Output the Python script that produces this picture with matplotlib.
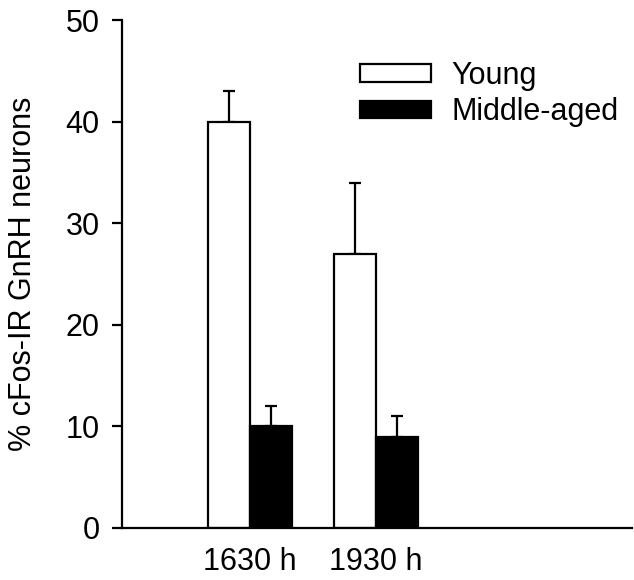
import numpy as np
import matplotlib
matplotlib.use("Agg")
import matplotlib.pyplot as plt

plt.rcParams["font.family"] = ["Liberation Sans", "DejaVu Sans"]

# data
times = ["1630 h", "1930 h"]
young = [40, 27]
young_err = [3, 7]
middle = [10, 9]
middle_err = [2, 2]

fig = plt.figure(figsize=(6.34, 5.8), dpi=100)
ax = fig.add_axes([0.1924, 0.0897, 0.805, 0.8758])

centers = np.array([3.0, 6.0])
width = 1.0
lw = 1.6
fs = 22

ax.bar(centers - width / 2, young, width, color="white", edgecolor="black",
       linewidth=lw, label="Young", zorder=2)
ax.bar(centers + width / 2, middle, width, color="black", edgecolor="black",
       linewidth=lw, label="Middle-aged", zorder=2)

# upward-only error bars
ax.errorbar(centers - width / 2, young, yerr=[np.zeros(2), young_err], fmt="none",
            ecolor="black", elinewidth=lw, capsize=4.5, capthick=lw, zorder=1)
ax.errorbar(centers + width / 2, middle, yerr=[np.zeros(2), middle_err], fmt="none",
            ecolor="black", elinewidth=lw, capsize=4.5, capthick=lw, zorder=1)

ax.set_xlim(-0.05, 12.1)
ax.set_ylim(0, 50)
ax.set_yticks(np.arange(0, 51, 10))
ax.set_xticks(centers)
ax.set_xticklabels(times)
ax.tick_params(axis="x", length=0, pad=14, labelsize=fs)
ax.tick_params(axis="y", length=7, width=lw, pad=9, labelsize=fs)

for s in ["top", "right"]:
    ax.spines[s].set_visible(False)
for s in ["left", "bottom"]:
    ax.spines[s].set_linewidth(lw)

ax.set_ylabel("% cFos-IR GnRH neurons", fontsize=fs, labelpad=20)

ax.legend(loc="upper left", bbox_to_anchor=(0.467, 0.919), frameon=False,
          fontsize=fs, handlelength=2.32, handleheight=0.52,
          handletextpad=0.66, labelspacing=0.2, borderpad=0, borderaxespad=0)

fig.savefig("out.png", dpi=100)
